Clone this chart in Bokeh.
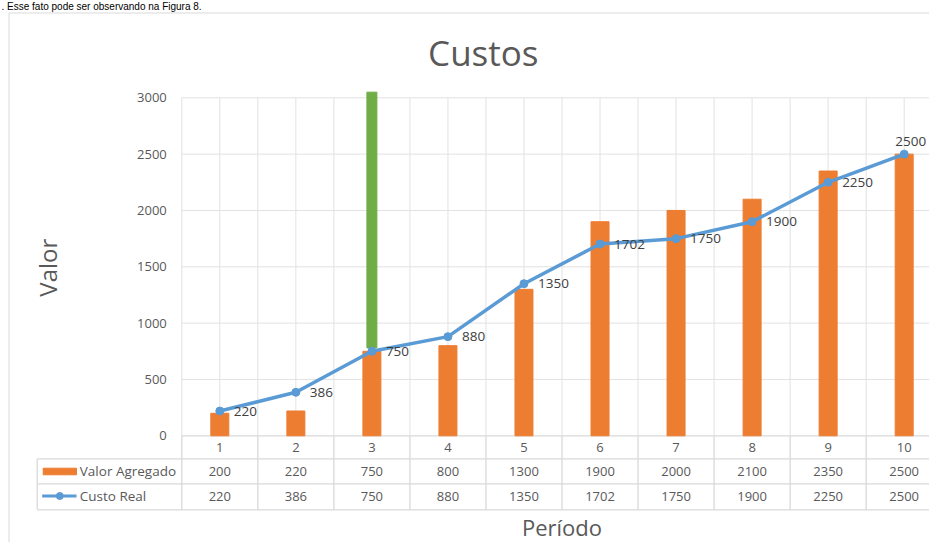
from bokeh.plotting import figure
from bokeh.models import Range1d, LinearAxis, FixedTicker, Label
from bokeh.core.properties import value
from bokeh.embed import file_html
from bokeh.resources import INLINE

# ---------------- data ----------------
periodos = [1, 2, 3, 4, 5, 6, 7, 8, 9, 10]
valor_agregado = [200, 220, 750, 800, 1300, 1900, 2000, 2100, 2350, 2500]
custo_real = [220, 386, 750, 880, 1350, 1702, 1750, 1900, 2250, 2500]
series = ["Valor Agregado", "Custo Real"]
y_ticks = [0, 500, 1000, 1500, 2000, 2500, 3000]
destaque_periodo = [3]
destaque_base = [780]
destaque_topo = [3050]

titulo = "Custos"
eixo_y = "Valor"
eixo_x = "Período"
texto_documento = ". Esse fato pode ser observando na Figura 8."

# ---------------- layout (pixels) ----------------
W, H = 929, 542
CAT_W = 76.04
X0_PX = 181.3                # category boundary 0.5
Y0_PX = 435.3                # value 0
PX_PER_UNIT = 338.0 / 3000.0

x_start = 0.5 - X0_PX / CAT_W
x_end = x_start + W / CAT_W
y_end = Y0_PX / PX_PER_UNIT
y_start = -(H - Y0_PX) / PX_PER_UNIT


def dx(px):
    return x_start + px / CAT_W


def dy(py):
    return (Y0_PX - py) / PX_PER_UNIT


FONT = "Open Sans"
ORANGE = "#ED7D31"
BLUE = "#5B9BD5"
GREEN = "#70AD47"
GRID = "#e2e2e2"
TBL = "#d9d9d9"
TXT = "#595959"
LBL = "#404040"

p = figure(width=W, height=H, output_backend="svg", toolbar_location=None,
           x_range=Range1d(x_start, x_end), y_range=Range1d(y_start, y_end),
           x_axis_type=None, y_axis_type=None, min_border=0,
           outline_line_color=None, background_fill_color="white")

first, last = periodos[0] - 0.5, periodos[-1] + 0.5
grid_x = [first + 0.5 * i for i in range(2 * len(periodos) + 1)]
bounds_x = [first + i for i in range(len(periodos) + 1)]

# gridlines of the plot area
p.segment(x0=grid_x, y0=[0] * len(grid_x), x1=grid_x, y1=[y_ticks[-1]] * len(grid_x),
          line_color=GRID, line_width=1)
gy = y_ticks[1:]
p.segment(x0=[first] * len(gy), y0=gy, x1=[last] * len(gy), y1=gy,
          line_color=GRID, line_width=1)

# chart border
p.line([dx(8.5), dx(8.5), dx(990)], [dy(700), dy(12.5), dy(12.5)],
       line_color=TBL, line_width=1)

# table lines
row_lines = [458.3, 483.3, 509.3]
hx0 = [first] + [dx(36.7)] * len(row_lines)
hx1 = [last] * (len(row_lines) + 1)
hy = [0] + [dy(v) for v in row_lines]
p.segment(x0=hx0, y0=hy, x1=hx1, y1=hy, line_color=TBL, line_width=1.3)
vx = bounds_x + [dx(36.7)]
vy0 = [0] * len(bounds_x) + [dy(458.3)]
vy1 = [dy(509.3)] * (len(bounds_x) + 1)
p.segment(x0=vx, y0=vy0, x1=vx, y1=vy1, line_color=TBL, line_width=1.3)

# bars
p.vbar(x=periodos, top=valor_agregado, width=18 / CAT_W, color=ORANGE)
p.vbar(x=destaque_periodo, bottom=destaque_base, top=destaque_topo,
       width=10 / CAT_W, color=GREEN)

# line
p.line(periodos, custo_real, line_color=BLUE, line_width=3.5)
p.scatter(periodos, custo_real, size=8, color=BLUE)

# data labels (the last one is moved above its point so it stays on the page)
p.text(x=periodos[:-1], y=custo_real[:-1], text=[str(v) for v in custo_real[:-1]],
       x_offset=14, text_align="left", text_baseline="middle",
       text_font=value(FONT), text_font_size="13.5px", text_color=LBL)
p.text(x=periodos[-1:], y=custo_real[-1:], text=[str(v) for v in custo_real[-1:]],
       x_offset=22, y_offset=-13, text_align="right", text_baseline="middle",
       text_font=value(FONT), text_font_size="13.5px", text_color=LBL)

# axes (fixed location, no extra panel space)
yax = LinearAxis(fixed_location=first, ticker=FixedTicker(ticks=y_ticks),
                 axis_line_color=None, major_tick_line_color=None,
                 minor_tick_line_color=None, major_tick_out=0, major_tick_in=0,
                 major_label_standoff=15, major_label_text_font=FONT,
                 major_label_text_font_size="13px", major_label_text_color=TXT)
p.add_layout(yax, "left")
xax = LinearAxis(fixed_location=0, ticker=FixedTicker(ticks=periodos),
                 axis_line_color=None, major_tick_line_color=None,
                 minor_tick_line_color=None, major_tick_out=0, major_tick_in=0,
                 major_label_standoff=7, major_label_text_font=FONT,
                 major_label_text_font_size="13px", major_label_text_color=TXT)
p.add_layout(xax, "below")

# table rows
row_centers = [470.5, 495.5]
p.text(x=periodos, y=[dy(row_centers[0])] * len(periodos),
       text=[str(v) for v in valor_agregado], text_align="center",
       text_baseline="middle", text_font=value(FONT), text_font_size="13px",
       text_color=TXT)
p.text(x=periodos, y=[dy(row_centers[1])] * len(periodos),
       text=[str(v) for v in custo_real], text_align="center",
       text_baseline="middle", text_font=value(FONT), text_font_size="13px",
       text_color=TXT)
p.text(x=[dx(79.3)] * 2, y=[dy(c) for c in row_centers], text=series,
       text_align="left", text_baseline="middle", text_font=value(FONT),
       text_font_size="13.5px", text_color=TXT)

# legend keys inside the table
p.quad(left=[dx(42.7)], right=[dx(76)], bottom=[dy(474.3)], top=[dy(467.7)],
       color=ORANGE)
p.line([dx(41.7), dx(76)], [dy(495.5), dy(495.5)], line_color=BLUE, line_width=3)
p.scatter([dx(59.3)], [dy(495.5)], size=7, color=BLUE)

# titles
p.add_layout(Label(x=dx(482.8), y=dy(51.5), text=titulo, text_align="center",
                   text_baseline="middle", text_font=FONT,
                   text_font_size="35px", text_color=TXT))
p.add_layout(Label(x=dx(46.7), y=dy(267.2), text=eixo_y, angle=1.5707963,
                   text_align="center", text_baseline="middle", text_font=FONT,
                   text_font_size="24px", text_color=TXT))
p.add_layout(Label(x=dx(561.5), y=dy(526.5), text=eixo_x, text_align="center",
                   text_baseline="middle", text_font=FONT,
                   text_font_size="22px", text_color=TXT))

# surrounding document text (reduced so it fits above the chart frame)
p.add_layout(Label(x=dx(1), y=dy(0.5), text=texto_documento, text_align="left",
                   text_baseline="top", text_font="Liberation Sans",
                   text_font_size="10px", text_color="#000000"))

open("out.html", "w").write(file_html(p, INLINE))
